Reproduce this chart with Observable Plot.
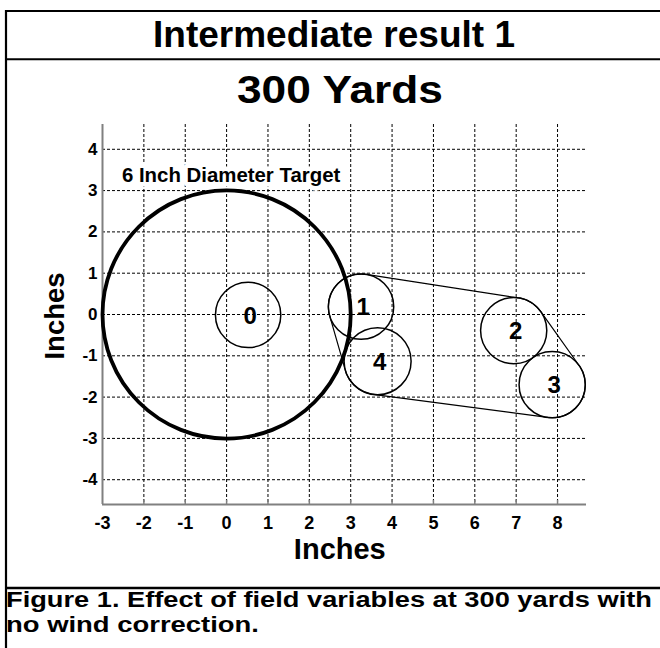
<!DOCTYPE html>
<html><head><meta charset="utf-8">
<script src="https://cdn.jsdelivr.net/npm/d3@7"></script>
<script src="https://cdn.jsdelivr.net/npm/@observablehq/plot@0.6"></script>
<style>
html,body{margin:0;padding:0;background:#fff;overflow:hidden;}
#fig{position:relative;width:660px;height:648px;overflow:hidden;font-family:"Liberation Sans",Arial,Helvetica,sans-serif;}
#chart{position:absolute;left:0;top:112px;}
#deco{position:absolute;left:0;top:0;pointer-events:none;}
</style></head><body>
<div id="fig"><div id="chart"></div><svg id="deco" width="660" height="648"></svg></div>
<script>
// ---- text ----
const title = "Intermediate result 1";
const subtitle = "300 Yards";
const captionLines = ["Figure 1. Effect of field variables at 300 yards with", "no wind correction."];
const xLabel = "Inches";
const yLabel = "Inches";
const targetLabel = "6 Inch Diameter Target";

// ---- axes ----
const xTicks = [-3, -2, -1, 0, 1, 2, 3, 4, 5, 6, 7, 8];
const yTicks = [-4, -3, -2, -1, 0, 1, 2, 3, 4];
const xDomain = [-3, 8.7];
const yDomain = [-4.6, 4.6];

// ---- target (inches) ----
const targetX = [0];
const targetY = [0];
const targetR = [3];

// ---- shot groups (inches) ----
const shotIds = ["0", "1", "2", "3", "4"];
const shotX = [0.52, 3.25, 6.94, 7.87, 3.65];
const shotY = [-0.01, 0.19, -0.39, -1.70, -1.13];
const shotR = [0.79, 0.79, 0.80, 0.80, 0.81];
const hullIds = ["1", "2", "3", "4"];

// annotation anchor (inches)
const targetLabelAt = {x: -2.53, y: 3.21};

// ---- build ----
const W = 660, H = 466, mL = 102, mR = 74, mT = 12, mB = 74;
const unitPx = (W - mL - mR) / (xDomain[1] - xDomain[0]);
const FONT = '"Liberation Sans", Arial, Helvetica, sans-serif';

const shots = shotIds.map((id, i) => ({id, x: shotX[i], y: shotY[i], r: shotR[i]}));
const target = targetX.map((x, i) => ({x, y: targetY[i], r: targetR[i]}));

// convex envelope around the grouped shots (outline of their circles)
const hullSrc = shots.filter(d => hullIds.includes(d.id));
const ringPts = hullSrc.flatMap(d => d3.range(0, 360, 1).map(a => [
  d.x + d.r * Math.cos(a * Math.PI / 180),
  d.y + d.r * Math.sin(a * Math.PI / 180)
]));
const hull = d3.polygonHull(ringPts).map(([x, y]) => ({x, y}));

const chart = Plot.plot({
  width: W, height: H,
  marginLeft: mL, marginRight: mR, marginTop: mT, marginBottom: mB,
  x: {domain: xDomain},
  y: {domain: yDomain},
  r: {type: "linear", domain: [0, 1], range: [0, unitPx]},
  style: {fontFamily: FONT, fontWeight: "bold", color: "#000", background: "transparent", overflow: "visible"},
  marks: [
    Plot.ruleX(xTicks.slice(1), {stroke: "#000", strokeWidth: 1, strokeDasharray: "3,2"}),
    Plot.ruleY(yTicks, {stroke: "#000", strokeWidth: 1, strokeDasharray: "3,2"}),
    Plot.ruleX([xDomain[0]], {stroke: "#808080", strokeWidth: 2}),
    Plot.ruleY([yDomain[0]], {stroke: "#808080", strokeWidth: 2}),
    Plot.ruleX(xTicks.slice(1), {y1: yDomain[0], y2: yDomain[0] + 0.1, stroke: "#808080", strokeWidth: 1.5}),
    Plot.axisX(xTicks, {tickSize: 0, tickPadding: 12, fontSize: 18, tickFormat: d => String(d), label: null}),
    Plot.axisY(yTicks, {tickSize: 0, tickPadding: 5, fontSize: 17, tickFormat: d => String(d), label: null}),
    Plot.text([xLabel], {text: d => d, frameAnchor: "bottom", textAnchor: "middle", lineAnchor: "bottom", dy: 54, dx: -4.7, fontSize: 29}),
    Plot.text([yLabel], {text: d => d, frameAnchor: "left", rotate: -90, textAnchor: "middle", lineAnchor: "bottom", dx: -38.7, dy: 1.5, fontSize: 27.5}),
    Plot.text([targetLabel], {x: () => targetLabelAt.x, y: () => targetLabelAt.y, text: d => d, textAnchor: "start", lineAnchor: "bottom", fontSize: 20.4, fill: "#000", stroke: "#fff", strokeWidth: 9, strokeLinejoin: "round", paintOrder: "stroke"}),
    Plot.dot(target, {x: "x", y: "y", r: "r", fill: "none", stroke: "#000", strokeWidth: 3.8}),
    Plot.line(hull, {x: "x", y: "y", curve: "linear-closed", stroke: "#000", strokeWidth: 1.2}),
    Plot.dot(shots, {x: "x", y: "y", r: "r", fill: "none", stroke: "#000", strokeWidth: 1.5}),
    Plot.text(shots, {x: "x", y: "y", text: "id", fontSize: 24, dx: 2, dy: 1})
  ]
});
document.getElementById("chart").appendChild(chart);

// ---- frame, titles, caption ----
const deco = d3.select("#deco");
const ln = (x1, y1, x2, y2, w) => deco.append("line").attr("x1", x1).attr("y1", y1).attr("x2", x2).attr("y2", y2).attr("stroke", "#000").attr("stroke-width", w);
ln(6, 10, 6, 648, 2.2);
ln(5, 11, 660, 11, 2);
ln(5, 59.3, 660, 59.3, 2);
ln(5, 588, 660, 588, 2.4);
const tx = (s, x, y, size, len, anchor) => deco.append("text").text(s)
  .attr("x", x).attr("y", y).attr("font-family", FONT).attr("font-weight", "bold")
  .attr("font-size", size).attr("text-anchor", anchor).attr("fill", "#000")
  .attr("textLength", len).attr("lengthAdjust", "spacingAndGlyphs");
tx(title, 334, 46.7, 37, 362, "middle");
tx(subtitle, 340, 103.3, 38, 206, "middle");
tx(captionLines[0], 6, 606.5, 22, 646, "start");
tx(captionLines[1], 6, 631.5, 22, 253, "start");
</script>
</body></html>
